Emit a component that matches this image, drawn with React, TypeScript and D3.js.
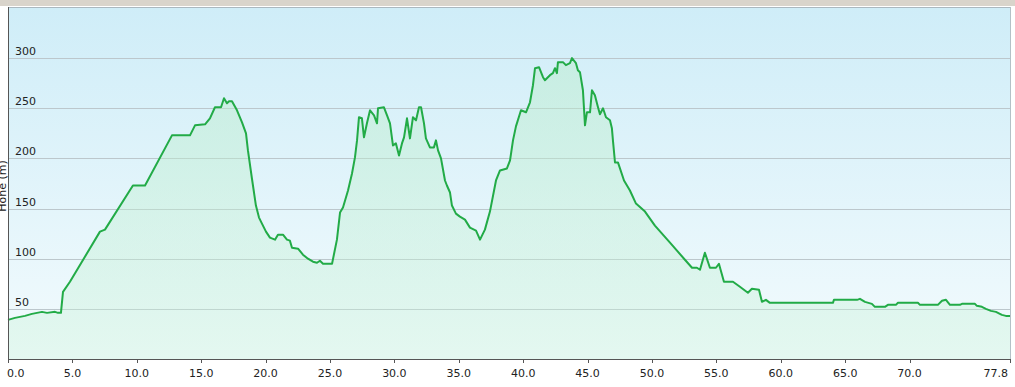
import React from "react";
import * as d3 from "d3";

const distanceKm: number[] = [
  0.0, 0.54, 1.32, 1.86, 2.64, 3.03, 3.65, 3.88, 4.11, 4.27, 4.81, 7.14, 7.53, 9.7, 10.64, 12.73, 14.13, 14.52, 15.3, 15.68,
  16.07, 16.54, 16.77, 17.0, 17.16, 17.39, 17.78, 18.17, 18.48, 18.63, 18.94, 19.25, 19.49, 19.72, 20.03, 20.34, 20.73, 20.96, 21.35, 21.66,
  21.89, 22.05, 22.52, 22.9, 23.29, 23.68, 23.99, 24.22, 24.46, 25.16, 25.54, 25.78, 26.01, 26.4, 26.71, 26.94, 27.1, 27.25, 27.48, 27.64,
  27.87, 28.11, 28.42, 28.65, 28.73, 29.19, 29.43, 29.66, 29.89, 30.12, 30.36, 30.59, 30.75, 30.98, 31.21, 31.44, 31.68, 31.91, 32.07, 32.3,
  32.45, 32.76, 33.07, 33.23, 33.39, 33.62, 33.93, 34.08, 34.32, 34.47, 34.78, 35.09, 35.48, 35.87, 36.34, 36.65, 37.03, 37.42, 37.89, 38.2,
  38.74, 38.98, 39.21, 39.44, 39.83, 40.22, 40.53, 40.76, 40.92, 41.23, 41.54, 41.69, 42.08, 42.31, 42.47, 42.62, 42.7, 43.09, 43.32, 43.63,
  43.79, 44.1, 44.25, 44.41, 44.64, 44.8, 44.95, 45.19, 45.34, 45.57, 45.81, 45.96, 46.2, 46.43, 46.74, 46.89, 46.97, 47.13, 47.36, 47.83,
  48.29, 48.76, 49.46, 50.23, 51.4, 52.56, 53.11, 53.49, 53.73, 54.11, 54.5, 54.97, 55.2, 55.59, 56.29, 56.83, 57.45, 57.76, 58.31, 58.54,
  58.85, 59.16, 64.05, 64.13, 65.92, 66.15, 66.54, 67.08, 67.31, 68.09, 68.32, 68.94, 69.1, 70.65, 70.81, 72.2, 72.52, 72.83, 73.14, 73.91,
  74.07, 75.08, 75.23, 75.62, 75.93, 76.32, 76.71, 77.17, 77.48, 77.8,
];

const elevationM: number[] = [
  39, 41, 43, 45, 47, 46, 47, 46, 46, 67, 77, 127, 129, 173, 173, 223, 223, 233, 234, 240,
  251, 251, 260, 255, 257, 257, 248, 236, 225, 208, 180, 153, 141, 135, 127, 121, 119, 124, 124, 119,
  118, 111, 110, 104, 100, 97, 96, 98, 95, 95, 119, 146, 151, 168, 185, 201, 218, 241, 240, 221,
  235, 248, 243, 235, 250, 251, 243, 235, 213, 215, 203, 215, 221, 240, 220, 241, 238, 251, 251, 235,
  220, 211, 211, 218, 208, 200, 178, 173, 166, 153, 145, 142, 139, 131, 128, 119, 129, 147, 178, 188,
  190, 198, 218, 232, 248, 246, 256, 273, 290, 291, 281, 278, 283, 285, 290, 285, 296, 296, 293, 295,
  300, 295, 288, 286, 268, 233, 246, 246, 268, 263, 251, 244, 250, 241, 238, 230, 218, 196, 196, 178,
  168, 155, 147, 133, 116, 99, 91, 91, 89, 106, 91, 91, 95, 77, 77, 72, 66, 70, 69, 57,
  59, 56, 56, 59, 59, 60, 57, 55, 52, 52, 54, 54, 56, 56, 54, 54, 58, 59, 54, 54,
  55, 55, 53, 52, 50, 48, 47, 44, 43, 43,
];

const yTicks: number[] = [50, 100, 150, 200, 250, 300];
const xTicks: number[] = [0, 5, 10, 15, 20, 25, 30, 35, 40, 45, 50, 55, 60, 65, 70, 77.8];
const yTitle = "Höhe (m)";

export default function App() {
  const W = 1015;
  const H = 387;
  const left = 8;
  const right = 1010;
  const top = 7;
  const bottom = 359;

  const x = d3.scaleLinear().domain([0, 77.8]).range([left, right]);
  const y = d3.scaleLinear().domain([0, 351]).range([bottom, top]);

  const pts: [number, number][] = distanceKm.map((d, i) => [d, elevationM[i]]);
  const line = d3
    .line<[number, number]>()
    .x((d) => x(d[0]))
    .y((d) => y(d[1]));
  const area = d3
    .area<[number, number]>()
    .x((d) => x(d[0]))
    .y0(y(0))
    .y1((d) => y(d[1]));

  const font = "'DejaVu Sans', Verdana, sans-serif";

  return (
    <svg
      width={W}
      height={H}
      style={{ position: "absolute", left: 0, top: 0, display: "block" }}
    >
      <defs>
        <linearGradient id="bg" x1="0" y1="0" x2="0" y2="1">
          <stop offset="0%" stopColor="#cfedf8" />
          <stop offset="100%" stopColor="#f3fbfd" />
        </linearGradient>
        <linearGradient id="fillg" x1="0" y1="0" x2="0" y2="1">
          <stop offset="0%" stopColor="#b8ecc8" stopOpacity={0.45} />
          <stop offset="100%" stopColor="#c8f2d8" stopOpacity={0.35} />
        </linearGradient>
      </defs>
      <rect x={0} y={0} width={W} height={H} fill="#ffffff" />
      <rect x={0} y={0} width={W} height={6} fill="#d9d4cb" />
      <rect x={left} y={top} width={right - left} height={bottom - top} fill="url(#bg)" />
      {yTicks.map((t) => (
        <line
          key={"g" + t}
          x1={left}
          x2={right}
          y1={Math.round(y(t)) + 0.5}
          y2={Math.round(y(t)) + 0.5}
          stroke="#bcc7cc"
          strokeWidth={1.2}
        />
      ))}
      <path d={area(pts) || ""} fill="url(#fillg)" />
      <path
        d={line(pts) || ""}
        fill="none"
        stroke="#22ab47"
        strokeWidth={2}
        strokeLinejoin="round"
      />
      <line x1={left} x2={right} y1={top + 0.5} y2={top + 0.5} stroke="#aab8c0" />
      <line x1={right + 0.5} x2={right + 0.5} y1={top} y2={bottom} stroke="#b4c0c6" />
      <line x1={left + 0.5} x2={left + 0.5} y1={top} y2={bottom} stroke="#555" />
      <line x1={left} x2={right + 1} y1={bottom + 0.5} y2={bottom + 0.5} stroke="#555" />
      {xTicks.map((t) => (
        <line
          key={"t" + t}
          x1={Math.round(x(t)) + 0.5}
          x2={Math.round(x(t)) + 0.5}
          y1={bottom}
          y2={bottom + 4}
          stroke="#555"
        />
      ))}
      {yTicks.map((t) => (
        <text
          key={"y" + t}
          x={15}
          y={y(t) - 3}
          fontFamily={font}
          fontSize={11}
          fill="#222"
        >
          {t}
        </text>
      ))}
      {xTicks.map((t, i) => (
        <text
          key={"x" + t}
          x={i === 0 ? x(t) - 1 : i === xTicks.length - 1 ? x(t) - 2 : x(t)}
          y={377}
          fontFamily={font}
          fontSize={11}
          fill="#222"
          textAnchor={i === 0 ? "start" : i === xTicks.length - 1 ? "end" : "middle"}
        >
          {t.toFixed(1)}
        </text>
      ))}
      <text
        transform={`translate(6, 186) rotate(-90)`}
        fontFamily={font}
        fontSize={11}
        fill="#222"
        textAnchor="middle"
      >
        {yTitle}
      </text>
    </svg>
  );
}
